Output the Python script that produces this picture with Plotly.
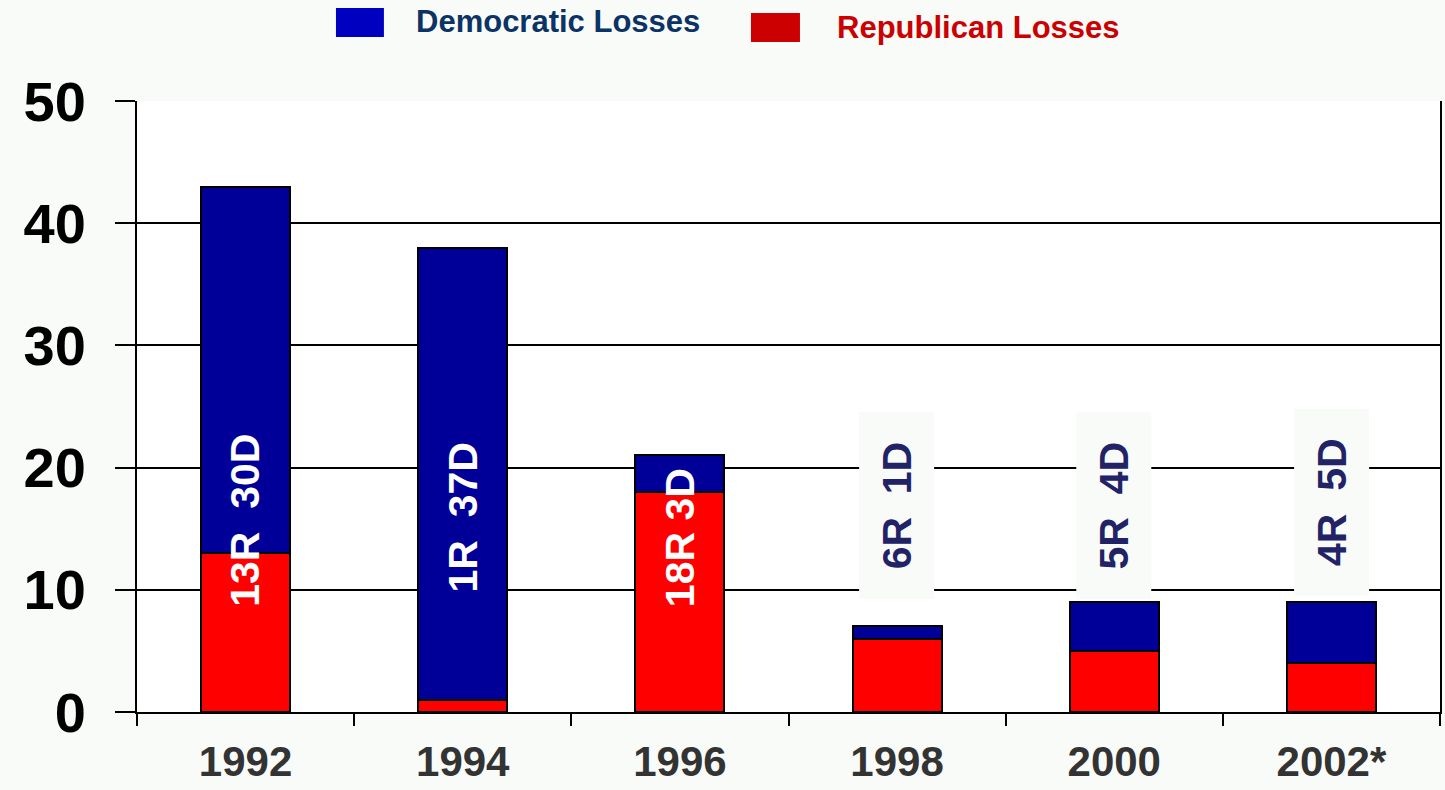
import plotly.graph_objects as go

# Election years and seat losses by party
years = ["1992", "1994", "1996", "1998", "2000", "2002*"]
republican_losses = [13, 1, 18, 6, 5, 4]
democratic_losses = [30, 37, 3, 1, 4, 5]

# Styling
BAR_RED = "#ff0000"
BAR_BLUE = "#000099"
KEY_BLUE = "#0000c0"
KEY_RED = "#cc0000"
KEY_TEXT_BLUE = "#0b3365"
PAGE_BG = "#f9fbf9"
FONT = "Liberation Sans, Arial, sans-serif"

fig = go.Figure()
fig.add_trace(go.Bar(
    x=years, y=republican_losses, name="Republican Losses",
    marker=dict(color=BAR_RED, line=dict(color="black", width=2)),
    hoverinfo="x+y",
))
fig.add_trace(go.Bar(
    x=years, y=democratic_losses, name="Democratic Losses",
    marker=dict(color=BAR_BLUE, line=dict(color="black", width=2)),
    hoverinfo="x+y",
))

# Vertical "nR  nD" labels; the first three sit inside their bars,
# the rest float above the short bars on a pale box.
label_y = [15.7, 15.9, 14.3, 16.9, 16.9, 17.2]
label_gap = [2, 2, 1, 2, 2, 2]
for i, (r, d) in enumerate(zip(republican_losses, democratic_losses)):
    text = f"{r}R" + "\u00a0" * label_gap[i] + f"{d}D"
    boxed = i >= 3
    fig.add_annotation(
        x=i, y=label_y[i], text=text, textangle=-90, showarrow=False,
        font=dict(family=FONT, size=41, weight="bold",
                  color="#222266" if boxed else "white"),
        bgcolor=PAGE_BG if boxed else "rgba(0,0,0,0)",
        width=184 if boxed else None, height=72 if boxed else None,
        xanchor="center", yanchor="middle",
    )

# Key drawn above the plot
key = [
    (0.1527, 0.1895, 1.1047, 1.1522, KEY_BLUE, 0.2126, 1.1293, "Democratic Losses", KEY_TEXT_BLUE),
    (0.4712, 0.5088, 1.0966, 1.1440, KEY_RED, 0.5357, 1.1195, "Republican Losses", KEY_RED),
]
for x0, x1, y0, y1, fill, tx, ty, label, tcol in key:
    fig.add_shape(type="rect", xref="paper", yref="paper", x0=x0, x1=x1, y0=y0, y1=y1,
                  fillcolor=fill, line=dict(width=0))
    fig.add_annotation(xref="paper", yref="paper", x=tx, y=ty, text=label, showarrow=False,
                       xanchor="left", yanchor="middle",
                       font=dict(family=FONT, size=31, weight="bold", color=tcol))

fig.update_layout(
    width=1445, height=790,
    margin=dict(l=137, r=5, t=101, b=78),
    barmode="stack", bargap=0.59,
    showlegend=False,
    paper_bgcolor=PAGE_BG, plot_bgcolor="white",
    font=dict(family=FONT),
)
fig.update_xaxes(
    type="category", range=[-0.5, len(years) - 0.5], automargin=False,
    showline=True, linecolor="black", linewidth=2,
    ticks="outside", tickson="boundaries", ticklen=12, tickwidth=2, tickcolor="black",
    showgrid=False, ticklabelstandoff=12, tickangle=0,
    tickfont=dict(family=FONT, size=42, weight="bold", color="#333333"),
)
fig.update_yaxes(
    range=[0, 50], dtick=10, automargin=False,
    showline=True, mirror=True, linecolor="black", linewidth=2,
    ticks="outside", ticklen=20, tickwidth=2, tickcolor="black",
    showgrid=True, gridcolor="black", gridwidth=1.5, zeroline=False,
    ticklabelstandoff=18,
    tickfont=dict(family=FONT, size=56, weight="bold", color="black"),
)

fig.write_html("out.html")
